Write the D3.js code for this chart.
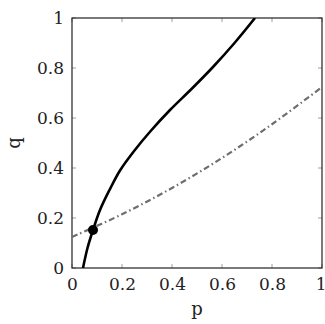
<!DOCTYPE html>
<html><head><meta charset="utf-8">
<script src="https://cdn.jsdelivr.net/npm/d3@7"></script>
<style>body{margin:0;background:#fff}</style>
</head><body>
<script>
// Data
const solidP = [0.044, 0.062, 0.084, 0.112, 0.15, 0.192, 0.25, 0.312, 0.392, 0.48, 0.564, 0.65, 0.732];
const solidQ = [0.0, 0.08, 0.152, 0.232, 0.312, 0.39, 0.47, 0.545, 0.632, 0.718, 0.804, 0.9, 1.0];
const dashP = [0, 0.2, 0.4, 0.6, 0.8, 1.0];
const dashQ = [0.124, 0.215, 0.32, 0.44, 0.575, 0.724];
const pointP = [0.084];
const pointQ = [0.152];
const ticks = [0, 0.2, 0.4, 0.6, 0.8, 1];
const tickLabels = ["0", "0.2", "0.4", "0.6", "0.8", "1"];

const W = 325, H = 324;
const m = {left: 72, right: 3, top: 18, bottom: 56};
const svg = d3.select("body").append("svg").attr("width", W).attr("height", H);
const x = d3.scaleLinear().domain([0, 1]).range([m.left, W - m.right]);
const y = d3.scaleLinear().domain([0, 1]).range([H - m.bottom, m.top]);
const font = "DejaVu Serif";

// ticks (gray, inward, mirrored)
const tg = svg.append("g").attr("stroke", "#a0a0a0").attr("stroke-width", 1);
ticks.forEach(t => {
  tg.append("line").attr("x1", x(t)).attr("x2", x(t)).attr("y1", y(0)).attr("y2", y(0) - 4);
  tg.append("line").attr("x1", x(t)).attr("x2", x(t)).attr("y1", y(1)).attr("y2", y(1) + 4);
  tg.append("line").attr("y1", y(t)).attr("y2", y(t)).attr("x1", x(0)).attr("x2", x(0) + 4);
  tg.append("line").attr("y1", y(t)).attr("y2", y(t)).attr("x1", x(1)).attr("x2", x(1) - 4);
});

// axes via d3 for labels
const xAxis = d3.axisBottom(x).tickValues(ticks).tickFormat((d, i) => tickLabels[i]).tickSize(0).tickPadding(10);
const yAxis = d3.axisLeft(y).tickValues(ticks).tickFormat((d, i) => tickLabels[i]).tickSize(0).tickPadding(8);
const gx = svg.append("g").attr("transform", `translate(0,${y(0)})`).call(xAxis);
const gy = svg.append("g").attr("transform", `translate(${x(0)},0)`).call(yAxis);
[gx, gy].forEach(g => {
  g.select(".domain").remove();
  g.selectAll("text").attr("font-family", font).attr("font-size", 17).attr("fill", "#222");
});
gx.selectAll("text").filter((d, i) => i === ticks.length - 1).attr("text-anchor", "end").attr("dx", 4);

// frame
svg.append("rect").attr("x", x(0)).attr("y", y(1)).attr("width", x(1) - x(0)).attr("height", y(0) - y(1))
  .attr("fill", "none").attr("stroke", "#222").attr("stroke-width", 1.2);

svg.append("clipPath").attr("id", "c").append("rect")
  .attr("x", x(0)).attr("y", y(1)).attr("width", x(1) - x(0)).attr("height", y(0) - y(1));

const line = d3.line().x(d => x(d[0])).y(d => y(d[1])).curve(d3.curveCatmullRom.alpha(0.5));

svg.append("path").datum(dashP.map((p, i) => [p, dashQ[i]]))
  .attr("d", line).attr("fill", "none").attr("stroke", "#6e6e6e").attr("stroke-width", 2.2)
  .attr("stroke-dasharray", "6,3,1.5,3").attr("clip-path", "url(#c)");

svg.append("path").datum(solidP.map((p, i) => [p, solidQ[i]]))
  .attr("d", line).attr("fill", "none").attr("stroke", "#000").attr("stroke-width", 2.6)
  .attr("clip-path", "url(#c)");

svg.selectAll("circle.pt").data(pointP.map((p, i) => [p, pointQ[i]])).enter().append("circle")
  .attr("cx", d => x(d[0])).attr("cy", d => y(d[1])).attr("r", 5).attr("fill", "#000");

// axis labels
svg.append("text").attr("x", (x(0) + x(1)) / 2).attr("y", 315).attr("text-anchor", "middle")
  .attr("font-family", font).attr("font-size", 18).attr("fill", "#222").text("p");
svg.append("text").attr("transform", `translate(20,${(y(0) + y(1)) / 2}) rotate(-90)`).attr("text-anchor", "middle")
  .attr("font-family", font).attr("font-size", 18).attr("fill", "#222").text("q");
</script>
</body></html>
